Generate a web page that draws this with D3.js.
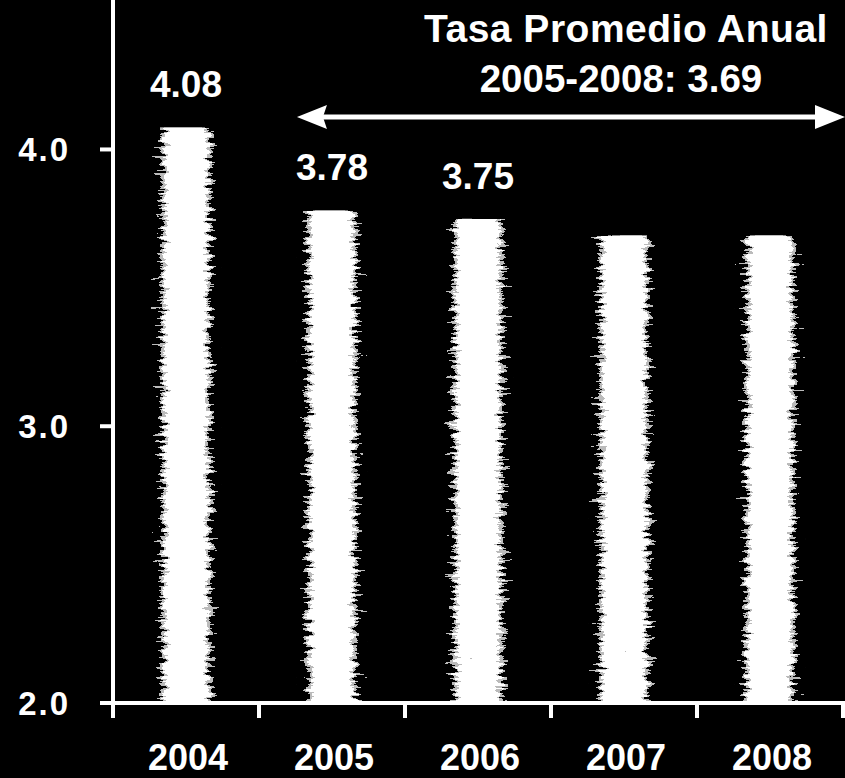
<!DOCTYPE html>
<html>
<head>
<meta charset="utf-8">
<script src="https://cdn.jsdelivr.net/npm/d3@7"></script>
<style>
  html, body { margin: 0; padding: 0; background: #000; }
  svg { display: block; }
  text { font-family: "Liberation Sans", Arial, sans-serif; font-weight: bold; fill: #fff; }
</style>
</head>
<body>
<div id="chart"></div>
<script>
// data
const years = ["2004", "2005", "2006", "2007", "2008"];
const rates = [4.08, 3.78, 3.75, 3.69, 3.69];
const rateLabels = ["4.08", "3.78", "3.75", "", ""];
const yTicks = [2.0, 3.0, 4.0];
const yMax = 4.54;
const titleLines = ["Tasa Promedio Anual", "2005-2008: 3.69"];

const width = 845, height = 778;
const margin = { top: 0, right: 2, bottom: 75, left: 113 };

const svg = d3.select("#chart").append("svg")
  .attr("width", width)
  .attr("height", height);

svg.append("rect").attr("width", width).attr("height", height).attr("fill", "#000");

// grainy scanned look for the bars
const defs = svg.append("defs");
const grad = defs.append("linearGradient").attr("id", "barGrad")
  .attr("x1", "0%").attr("x2", "100%").attr("y1", "0%").attr("y2", "0%");
[[0, "#3a3a3a"], [0.15, "#a0a0a0"], [0.3, "#f4f4f4"], [0.7, "#f4f4f4"], [0.85, "#a0a0a0"], [1, "#3a3a3a"]]
  .forEach(([o, c]) => grad.append("stop").attr("offset", o).attr("stop-color", c));

const filt = defs.append("filter").attr("id", "grain")
  .attr("x", "0").attr("y", "0").attr("width", "1").attr("height", "1");
filt.append("feTurbulence").attr("type", "fractalNoise")
  .attr("baseFrequency", "0.05 0.3").attr("numOctaves", 4).attr("seed", 7).attr("result", "n");
filt.append("feColorMatrix").attr("in", "n").attr("type", "matrix")
  .attr("values", "1 0 0 0 0  1 0 0 0 0  1 0 0 0 0  0 0 0 0 1").attr("result", "g");
filt.append("feComposite").attr("in", "SourceGraphic").attr("in2", "g")
  .attr("operator", "arithmetic").attr("k1", 0).attr("k2", 1.5).attr("k3", 1.4).attr("k4", -0.95)
  .attr("result", "mix");
const ct = filt.append("feComponentTransfer").attr("in", "mix").attr("result", "post");
["feFuncR", "feFuncG", "feFuncB"].forEach(f =>
  ct.append(f).attr("type", "discrete").attr("tableValues", "0 0.5 1 1"));
filt.append("feComposite").attr("in", "post").attr("in2", "SourceAlpha").attr("operator", "in");

// scales
const x = d3.scaleBand().domain(years).range([margin.left, width - margin.right]);
const y = d3.scaleLinear().domain([2.0, yMax]).range([height - margin.bottom, margin.top]);
const bw = x.bandwidth();
const barW = bw * 0.48;

// bars
svg.append("g").selectAll("rect")
  .data(years)
  .join("rect")
    .attr("x", (d) => x(d) + (bw - barW) / 2)
    .attr("y", (d, i) => y(rates[i]))
    .attr("width", barW)
    .attr("height", (d, i) => y(2.0) - y(rates[i]))
    .attr("fill", "url(#barGrad)")
    .attr("filter", "url(#grain)");

// value labels
svg.append("g").selectAll("text")
  .data(years)
  .join("text")
    .attr("x", (d) => x(d) + bw / 2)
    .attr("y", (d, i) => y(rates[i]) - 30)
    .attr("text-anchor", "middle")
    .attr("font-size", 37)
    .text((d, i) => rateLabels[i]);

// axes drawn by hand so they look like the white scan lines
const axis = svg.append("g").attr("stroke", "#fff").attr("stroke-width", 4);
axis.append("line")
  .attr("x1", margin.left).attr("x2", margin.left)
  .attr("y1", 0).attr("y2", y(2.0) + 15);
axis.append("line")
  .attr("x1", margin.left - 11).attr("x2", width)
  .attr("y1", y(2.0)).attr("y2", y(2.0));
axis.selectAll(".yt")
  .data(yTicks)
  .join("line")
    .attr("x1", margin.left - 13).attr("x2", margin.left)
    .attr("y1", (d) => y(d)).attr("y2", (d) => y(d));
axis.selectAll(".xt")
  .data(years)
  .join("line")
    .attr("x1", (d) => x(d) + bw).attr("x2", (d) => x(d) + bw)
    .attr("y1", y(2.0)).attr("y2", y(2.0) + 15);

svg.append("g").selectAll("text")
  .data(yTicks)
  .join("text")
    .attr("x", 70)
    .attr("y", (d) => y(d) + 12)
    .attr("text-anchor", "end")
    .attr("font-size", 33)
    .attr("letter-spacing", 2)
    .text((d) => d.toFixed(1));

svg.append("g").selectAll("text")
  .data(years)
  .join("text")
    .attr("x", (d) => x(d) + bw / 2 + 2)
    .attr("y", height - 8)
    .attr("text-anchor", "middle")
    .attr("font-size", 36)
    .text((d) => d);

// annotation: average rate 2005-2008 with double arrow
const cx = x("2007") + bw / 2;
svg.append("text")
  .attr("x", cx + 2).attr("y", 42)
  .attr("text-anchor", "middle")
  .attr("font-size", 39)
  .attr("letter-spacing", 0.5)
  .text(titleLines[0]);
svg.append("text")
  .attr("x", cx - 3).attr("y", 92)
  .attr("text-anchor", "middle")
  .attr("font-size", 38.5)
  .text(titleLines[1]);

const ay = 117;
const ax0 = x("2005") + bw * 0.26;
const ax1 = width;
svg.append("line")
  .attr("x1", ax0 + 20).attr("x2", ax1 - 20)
  .attr("y1", ay).attr("y2", ay)
  .attr("stroke", "#fff").attr("stroke-width", 5);
svg.append("path")
  .attr("d", `M${ax0},${ay} L${ax0 + 30},${ay - 12} L${ax0 + 26},${ay} L${ax0 + 30},${ay + 12} Z`)
  .attr("fill", "#fff");
svg.append("path")
  .attr("d", `M${ax1},${ay} L${ax1 - 30},${ay - 12} L${ax1 - 30},${ay + 12} Z`)
  .attr("fill", "#fff");
</script>
</body>
</html>
